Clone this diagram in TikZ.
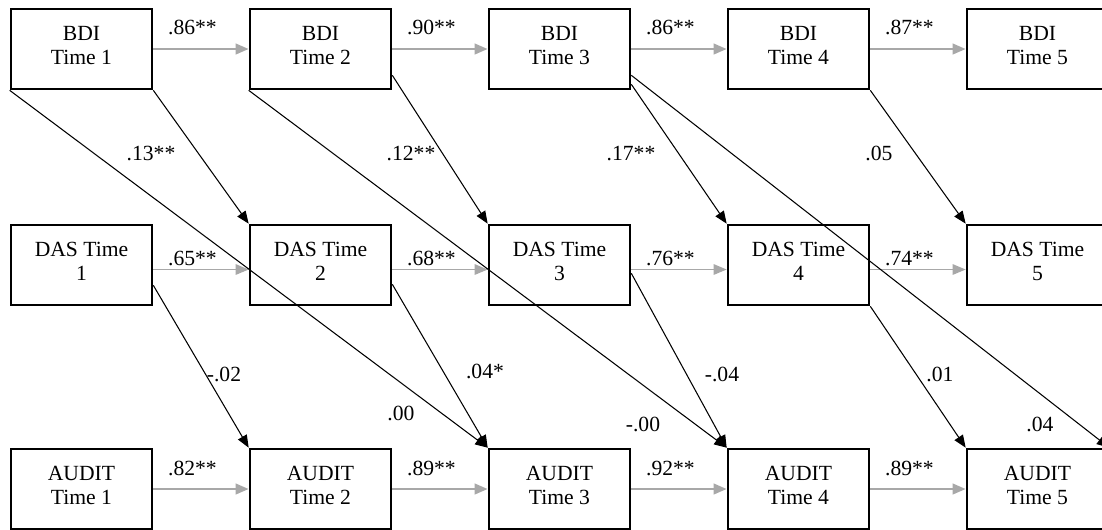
\documentclass[tikz,border=0pt]{standalone}
\usepackage{fontspec}
\setmainfont{Liberation Serif}
\usetikzlibrary{arrows.meta}
\definecolor{stabgray}{HTML}{A8A8A8}
\tikzset{
  var/.style={draw,line width=1.5pt,minimum width=2.82cm,minimum height=1.6cm,
    inner sep=0pt,align=center,font=\fontsize{12.3}{14}\selectfont,
    execute at end node=\strut},
  stab/.style={draw=stabgray,line width=1.4pt,-{Triangle[length=0.26cm,width=0.21cm]}},
  cross/.style={draw=black,line width=0.6pt,-{Triangle[length=0.25cm,width=0.2cm]}},
  coef/.style={anchor=base,inner sep=0pt,font=\fontsize{12.3}{14}\selectfont}
}
\begin{document}
\begin{tikzpicture}
                \useasboundingbox (0,0) rectangle (22.04,-10.58);
                \clip (0,0) rectangle (22.04,-10.58);
                % BDI row
                \node[var] (bdi1) at (1.63,-0.98) {BDI\\Time 1};
                \node[var] (bdi2) at (6.41,-0.98) {BDI\\Time 2};
                \node[var] (bdi3) at (11.19,-0.98) {BDI\\Time 3};
                \node[var] (bdi4) at (15.97,-0.98) {BDI\\Time 4};
                \node[var] (bdi5) at (20.75,-0.98) {BDI\\Time 5};
                % DAS row
                \node[var] (das1) at (1.63,-5.30) {DAS Time\\1};
                \node[var] (das2) at (6.41,-5.30) {DAS Time\\2};
                \node[var] (das3) at (11.19,-5.30) {DAS Time\\3};
                \node[var] (das4) at (15.97,-5.30) {DAS Time\\4};
                \node[var] (das5) at (20.75,-5.30) {DAS Time\\5};
                % AUDIT row
                \node[var] (aud1) at (1.63,-9.78) {AUDIT\\Time 1};
                \node[var] (aud2) at (6.41,-9.78) {AUDIT\\Time 2};
                \node[var] (aud3) at (11.19,-9.78) {AUDIT\\Time 3};
                \node[var] (aud4) at (15.97,-9.78) {AUDIT\\Time 4};
                \node[var] (aud5) at (20.75,-9.78) {AUDIT\\Time 5};

                % stability paths
                \draw[stab] (bdi1.east) -- node[coef,pos=.41,yshift=0.3cm] (sb1) {.86**} (bdi2.west);
                \draw[stab] (bdi2.east) -- node[coef,pos=.41,yshift=0.3cm] (sb2) {.90**} (bdi3.west);
                \draw[stab] (bdi3.east) -- node[coef,pos=.41,yshift=0.3cm] (sb3) {.86**} (bdi4.west);
                \draw[stab] (bdi4.east) -- node[coef,pos=.41,yshift=0.3cm] (sb4) {.87**} (bdi5.west);
                \draw[stab,line width=0.7pt] ([yshift=-0.09cm]das1.east) -- node[coef,pos=.41,yshift=0.09cm] (sd1) {.65**} ([yshift=-0.09cm]das2.west);
                \draw[stab,line width=0.7pt] ([yshift=-0.09cm]das2.east) -- node[coef,pos=.41,yshift=0.09cm] (sd2) {.68**} ([yshift=-0.09cm]das3.west);
                \draw[stab,line width=0.7pt] ([yshift=-0.09cm]das3.east) -- node[coef,pos=.41,yshift=0.09cm] (sd3) {.76**} ([yshift=-0.09cm]das4.west);
                \draw[stab,line width=0.7pt] ([yshift=-0.09cm]das4.east) -- node[coef,pos=.41,yshift=0.09cm] (sd4) {.74**} ([yshift=-0.09cm]das5.west);
                \draw[stab] (aud1.east) -- node[coef,pos=.41,yshift=0.28cm] (sa1) {.82**} (aud2.west);
                \draw[stab] (aud2.east) -- node[coef,pos=.41,yshift=0.28cm] (sa2) {.89**} (aud3.west);
                \draw[stab] (aud3.east) -- node[coef,pos=.41,yshift=0.28cm] (sa3) {.92**} (aud4.west);
                \draw[stab] (aud4.east) -- node[coef,pos=.41,yshift=0.28cm] (sa4) {.89**} (aud5.west);

                % cross-lagged paths
                \draw[cross] (bdi1.south east) -- (das2.north west);
                \draw[cross] ([yshift=0.3cm]bdi2.south east) -- (das3.north west);
                \draw[cross] ([yshift=0.12cm]bdi3.south east) -- (das4.north west);
                \draw[cross] (bdi4.south east) -- (das5.north west);
                \draw[cross] (bdi1.south west) -- (aud3.north west);
                \draw[cross] (bdi2.south west) -- (aud4.north west);
                \draw[cross] ([yshift=0.3cm]bdi3.south east) -- (aud5.north east);
                \draw[cross] ([yshift=0.42cm]das1.south east) -- (aud2.north west);
                \draw[cross] ([yshift=0.44cm]das2.south east) -- (aud3.north west);
                \draw[cross] ([yshift=0.66cm]das3.south east) -- (aud4.north west);
                \draw[cross] (das4.south east) -- (aud5.north west);

                \node[coef] (c1) at (3.02,-3.20) {.13**};
                \node[coef] (c2) at (8.22,-3.20) {.12**};
                \node[coef] (c3) at (12.62,-3.20) {.17**};
                \node[coef] (c4) at (17.58,-3.20) {.05};
                \node[coef] (c5) at (4.48,-7.62) {-.02};
                \node[coef] (c6) at (9.70,-7.56) {.04*};
                \node[coef] (c7) at (8.02,-8.40) {.00};
                \node[coef] (c8) at (14.44,-7.62) {-.04};
                \node[coef] (c9) at (18.80,-7.62) {.01};
                \node[coef] (c10) at (12.86,-8.62) {-.00};
                \node[coef] (c11) at (20.80,-8.62) {.04};

                \end{tikzpicture}
\end{document}
